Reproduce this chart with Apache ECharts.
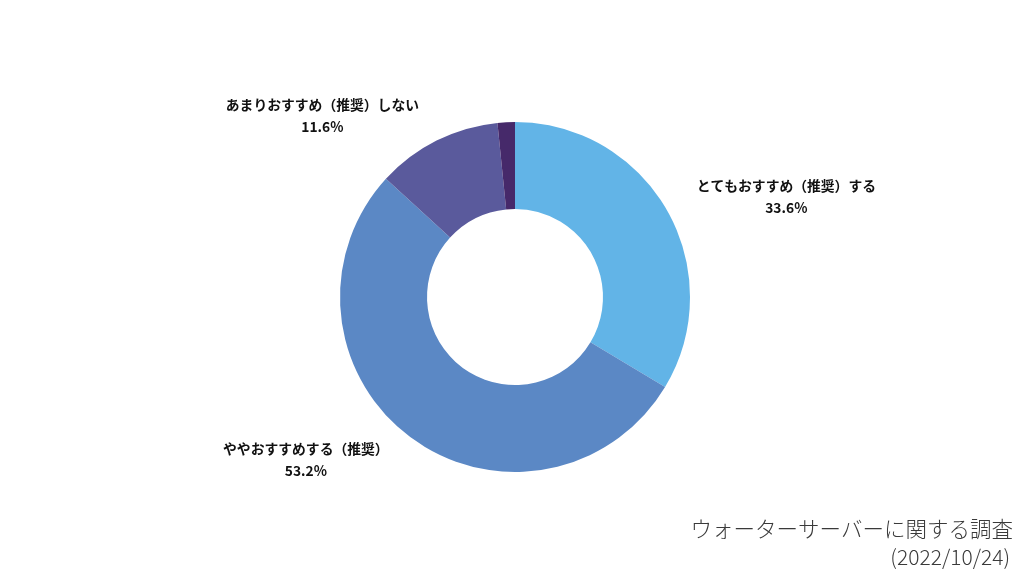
<!DOCTYPE html>
<html>
<head>
<meta charset="utf-8">
<script src="https://cdn.jsdelivr.net/npm/echarts@6/dist/echarts.min.js"></script>
<style>
html,body{margin:0;padding:0;background:#fff;}
#main{width:1024px;height:576px;}
</style>
</head>
<body>
<div id="main"></div>
<script>
const categories = ['とてもおすすめ（推奨）する', 'ややおすすめする（推奨）', 'あまりおすすめ（推奨）しない', '全くおすすめ（推奨）しない'];
const values = [33.6, 53.2, 11.6, 1.6];
const showLabel = [true, true, true, false];
const colors = ['#62B4E7', '#5B88C5', '#5A5A9C', '#46296A'];
const titleText = 'ウォーターサーバーに関する調査';
const subtitleText = '(2022/10/24)';

const chart = echarts.init(document.getElementById('main'));
chart.setOption({
  backgroundColor: '#ffffff',
  animation: false,
  title: [{
    text: titleText,
    right: 6,
    top: 513,
    textStyle: {
      fontFamily: 'Noto Sans CJK JP',
      fontSize: 21.5,
      fontWeight: 300,
      color: '#3a3a3a'
    }
  }, {
    text: subtitleText,
    right: 9,
    top: 542,
    textStyle: {
      fontFamily: 'Noto Sans CJK JP',
      fontSize: 21,
      fontWeight: 300,
      color: '#3a3a3a'
    }
  }],
  series: [{
    type: 'pie',
    center: [515, 297],
    radius: [88, 175],
    startAngle: 90,
    clockwise: true,
    avoidLabelOverlap: false,
    data: categories.map((c, i) => ({
      name: c,
      value: values[i],
      itemStyle: { color: colors[i] },
      label: { show: showLabel[i] }
    })),
    label: {
      position: 'outside',
      formatter: p => '{a|' + p.name + '}\n{a|' + p.value.toFixed(1) + '%}',
      rich: {
        a: {
          fontFamily: 'Noto Sans CJK JP',
          fontSize: 13.8,
          fontWeight: 'bold',
          color: '#111111',
          lineHeight: 22,
          align: 'center'
        }
      }
    },
    labelLine: { show: false, length: 28, length2: 0 }
  }]
});
</script>
</body>
</html>
